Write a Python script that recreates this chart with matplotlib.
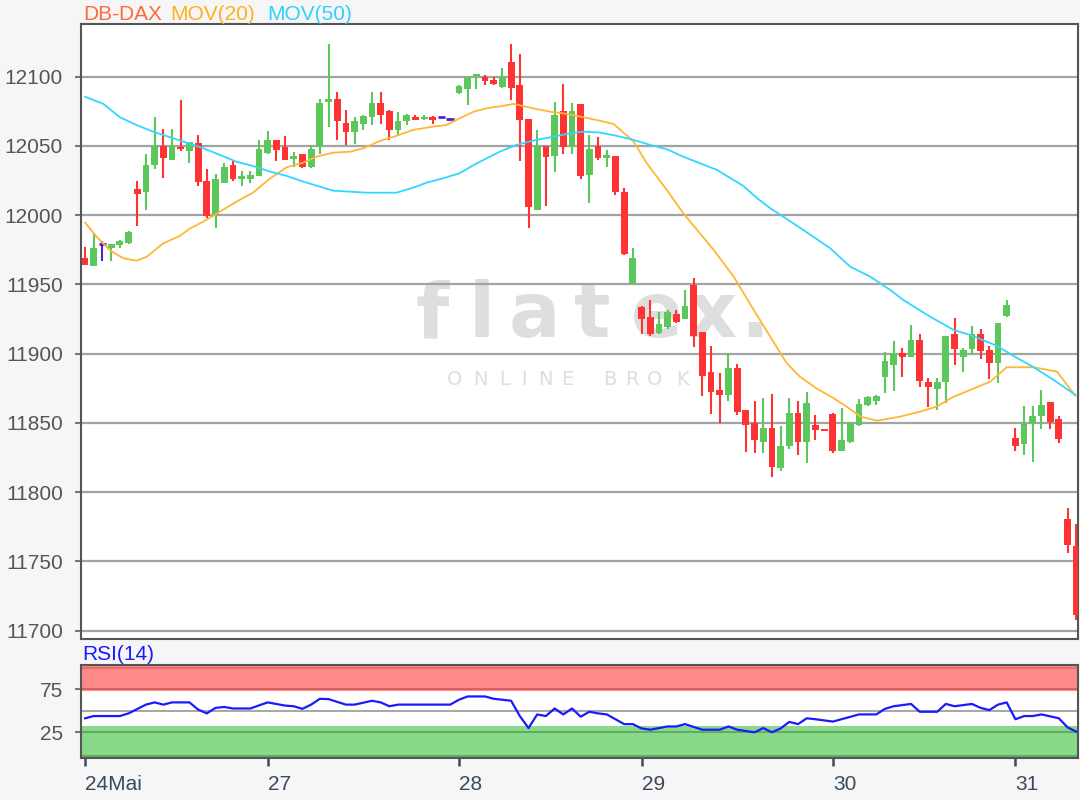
import numpy as np
import matplotlib
matplotlib.use("Agg")
import matplotlib.pyplot as plt

plt.rcParams["font.family"] = ["Liberation Sans", "DejaVu Sans"]

# hourly candles DB-DAX (open, high, low, close)
opens = [11969, 11963, 11979, 11976.5, 11978.5, 11980, 12019, 12016.5, 12036, 12050,
         12040, 12049.5, 12046, 12052, 12024.5, 12000, 12023.5, 12036.5, 12026, 12026,
         12028.5, 12045, 12054, 12049.5, 12040.5, 12044, 12034.5, 12049, 12081.5, 12084,
         12066.5, 12060, 12065.5, 12070.5, 12081, 12075, 12061.5, 12068, 12071, 12069.5,
         12071, 12071, 12069.5, 12088, 12091, 12100.5, 12100, 12097.5, 12092.5, 12110.5,
         12094, 12069.5, 12004, 12050, 12043, 12075.5, 12049, 12080.5, 12029, 12050,
         12041.5, 12042.5, 12017, 11950.5, 11933.5, 11926.5, 11915, 11919, 11928.5, 11925,
         11949.5, 11916, 11887, 11874, 11870, 11890, 11859.5, 11850, 11836.5, 11846,
         11817.5, 11833, 11857.5, 11836, 11848.5, 11845, 11856.5, 11830, 11836.5, 11848.5,
         11863, 11865.5, 11883, 11891.5, 11900.5, 11897.5, 11910, 11879.5, 11874.5, 11879.5,
         11914.5, 11897.5, 11903.5, 11914, 11902.5, 11893, 11927.5, 11839, 11834.5, 11850,
         11855, 11865, 11852.5, 11780.5, 11761]
highs = [11977, 11987, 11981, 11979.5, 11982, 11988.5, 12025, 12044, 12071, 12062.5,
         12062.5, 12083, 12053, 12058, 12033.5, 12030, 12038, 12039.5, 12032, 12032,
         12054, 12061, 12054, 12057, 12045.5, 12044, 12050.5, 12084, 12123.5, 12089,
         12076, 12071, 12072, 12089, 12089, 12076, 12074.5, 12073, 12072, 12072.5,
         12071.5, 12071, 12069.5, 12094, 12099.5, 12102, 12101, 12100, 12106, 12123.5,
         12116, 12069.5, 12061.5, 12050, 12082, 12094.5, 12081, 12080.5, 12058, 12056.5,
         12047, 12042.5, 12019.5, 11976, 11934.5, 11938.5, 11930, 11931.5, 11931.5, 11946,
         11954.5, 11916, 11905.5, 11886, 11900.5, 11892.5, 11859.5, 11865.5, 11868, 11871,
         11847.5, 11868, 11865.5, 11872, 11856, 11845, 11857.5, 11860.5, 11851, 11867,
         11869.5, 11870.5, 11901, 11909, 11904, 11920.5, 11914.5, 11882.5, 11882.5, 11913,
         11926, 11904, 11920, 11917.5, 11905.5, 11922, 11939, 11846.5, 11862.5, 11862.5,
         11874, 11865, 11855, 11788.5, 11777]
lows = [11964, 11963, 11967, 11967, 11976, 11979, 11992, 12004, 12033, 12027,
        12040, 12046.5, 12037.5, 12021, 11998, 11991, 12023, 12025, 12021, 12023.5,
        12028, 12044, 12039, 12039.5, 12035, 12034, 12034, 12044, 12063.5, 12054.5,
        12050.5, 12051.5, 12061.5, 12065, 12065.5, 12054, 12057, 12065, 12068.5, 12068.5,
        12066, 12071, 12069.5, 12087.5, 12079.5, 12091, 12094, 12094, 12092, 12083,
        12039, 11991, 12003.5, 12006.5, 12031.5, 12044.5, 12044.5, 12026, 12008.5, 12040,
        12034.5, 12014.5, 11971, 11950, 11914.5, 11912.5, 11914.5, 11918, 11922, 11925,
        11905, 11869.5, 11856.5, 11850, 11865.5, 11856, 11829, 11828.5, 11828, 11811,
        11815.5, 11831, 11827, 11821, 11838, 11844.5, 11828, 11829.5, 11835.5, 11848,
        11862.5, 11863, 11871.5, 11873, 11883, 11897.5, 11876, 11861.5, 11859, 11864.5,
        11892, 11886.5, 11899.5, 11896, 11882, 11879, 11926.5, 11830, 11827, 11822,
        11845.5, 11845.5, 11835.5, 11756, 11708]
closes = [11964, 11976.5, 11979, 11979, 11981, 11987.5, 12015, 12036, 12050, 12041.5,
          12050, 12048, 12053, 12024, 11999.5, 12026, 12035, 12026, 12028, 12029,
          12048, 12054, 12047, 12040, 12042.5, 12034.5, 12048, 12081, 12084, 12068,
          12060, 12068, 12071.5, 12081, 12072, 12061.5, 12068, 12072, 12069, 12071,
          12069, 12071, 12069.5, 12093, 12099.5, 12102, 12096.5, 12095, 12100, 12092,
          12069, 12006, 12050, 12042, 12072, 12049, 12075.5, 12028, 12048, 12041,
          12043.5, 12017, 11972, 11969, 11925, 11914, 11921.5, 11930, 11923, 11934.5,
          11912.5, 11884, 11872.5, 11870, 11890, 11858, 11848.5, 11838, 11846, 11818,
          11833, 11857.5, 11836, 11864.5, 11845, 11844.5, 11829.5, 11837.5, 11851, 11864,
          11868.5, 11869.5, 11894.5, 11900.5, 11897.5, 11910, 11880, 11876, 11879.5, 11913,
          11903.5, 11902.5, 11914, 11902, 11893, 11922, 11935, 11833, 11849.5, 11855,
          11863, 11850.5, 11838.5, 11762, 11711.5]

# moving averages read at points along the lines (candle index, price)
mov20_x = [0, 1.3, 2.9, 4.4, 5.9, 7.1, 9.0, 10.9, 12.1, 13.6, 15.5, 17.4, 19.3, 21.3, 23.2,
           25.1, 26.6, 28.5, 30.5, 32.0, 33.9, 35.8, 37.7, 40.0, 41.6, 43.1, 44.7, 46.2, 47.7,
           49.3, 51.6, 53.5, 55.4, 57.3, 59.2, 60.8, 63.1, 64.6, 66.9, 68.8, 70.7, 72.3, 74.6,
           76.9, 78.8, 80.7, 82.2, 84.1, 86.1, 87.6, 89.2, 91.1, 93.7, 96.0, 97.9, 99.9, 101.8,
           104.1, 106.0, 109.1, 111.8, 113.9]
mov20 = [11994.6, 11984.5, 11974.4, 11968.9, 11967.1, 11970.0, 11979.7, 11985.0, 11990.5,
         11995.3, 12002.5, 12009.7, 12016.2, 12026.6, 12034.6, 12037.9, 12042.2, 12045.1,
         12045.8, 12048.3, 12053.6, 12057.2, 12061.5, 12063.9, 12065.1, 12070.0, 12074.7,
         12077.2, 12078.5, 12080.3, 12077.0, 12074.7, 12073.1, 12070.7, 12068.2, 12065.8,
         12053.1, 12037.5, 12018.2, 12001.4, 11986.9, 11974.9, 11955.6, 11931.6, 11912.3,
         11893.1, 11883.5, 11875.0, 11867.8, 11861.7, 11854.5, 11851.6, 11854.5, 11858.1,
         11861.7, 11868.9, 11873.8, 11879.8, 11890.2, 11890.2, 11887.0, 11869.5]
mov50_x = [0, 2.1, 4.0, 5.9, 7.8, 9.8, 11.7, 13.6, 15.5, 17.4, 19.3, 21.3, 23.2, 25.1, 27.0,
           28.5, 32.4, 35.8, 38.1, 39.3, 41.2, 43.1, 44.7, 46.2, 47.7, 49.6, 51.6, 53.5, 55.4,
           57.3, 59.2, 61.2, 63.1, 65.0, 66.9, 68.8, 70.7, 72.7, 75.7, 77.3, 78.8, 80.3, 82.6,
           85.7, 88.0, 90.3, 92.6, 94.1, 97.2, 99.9, 101.8, 104.9, 106.8, 109.1, 111.4, 113.9]
mov50 = [12085.5, 12080.3, 12070.7, 12065.1, 12060.3, 12056.2, 12052.3, 12048.3, 12043.5,
         12038.6, 12035.5, 12031.4, 12028.3, 12024.2, 12020.6, 12017.7, 12016.2, 12016.2,
         12020.6, 12023.5, 12026.6, 12030.3, 12036.2, 12041.1, 12045.8, 12050.7, 12053.9,
         12056.2, 12058.6, 12060.3, 12059.6, 12057.2, 12054.3, 12050.7, 12047.6, 12042.2,
         12037.5, 12032.6, 12021.1, 12012.2, 12005.0, 11998.9, 11989.3, 11976.1, 11962.8,
         11955.6, 11946.0, 11938.8, 11926.7, 11917.1, 11913.5, 11905.6, 11898.3, 11890.2,
         11881.0, 11870.2]

# RSI(14) read at the line's corners
rsi_x = [0, 1, 4, 5, 7, 8, 9, 10, 12, 13, 14, 15, 16, 17, 19, 21, 23, 24, 25, 26,
         27, 28, 30, 31, 33, 34, 35, 36, 42, 43, 44, 46, 47, 49, 50, 51, 52, 53, 54, 55,
         56, 57, 58, 59, 60, 61, 62, 63, 64, 65, 67, 68, 69, 71, 73, 74, 75, 77, 78, 79,
         80, 81, 82, 83, 84, 86, 87, 89, 91, 92, 93, 95, 96, 98, 99, 100, 102, 103, 104, 105,
         106, 107, 108, 109, 110, 112, 113, 114]
rsi = [41.3, 43.9, 43.9, 47, 57.2, 59.8, 57.2, 59.8, 59.8, 51.5, 47, 53.4, 54.5, 52.7, 52.7,
       59.8, 56.1, 55.3, 52.3, 57.2, 64, 63.6, 57.2, 57.2, 61.7, 59.8, 55.3, 57.2, 57.2, 62.9,
       66.7, 66.7, 64, 61.7, 43.9, 29.9, 45.8, 43.9, 52.7, 45.8, 52.7, 43.2, 48.9, 47, 45.8,
       40.2, 34.5, 34.5, 29.5, 28, 31.8, 31.8, 34.5, 28, 28, 31.8, 28, 25, 29.9, 25,
       29.5, 37.1, 34.5, 41.3, 40.2, 37.5, 40.2, 45.8, 45.8, 52.3, 55.3, 58, 48.9, 48.9, 58,
       55.3, 58, 53.4, 50.8, 57.2, 59.8, 40.2, 43.9, 43.9, 45.8, 41.3, 30.7, 25.8]

day_pos = [0, 21, 43, 64, 86, 107]
day_labels = ["24Mai", "27", "28", "29", "30", "31"]
price_ticks = [11700, 11750, 11800, 11850, 11900, 11950, 12000, 12050, 12100]

green = "#5cc85c"
red = "#ff3333"
doji = "#4a22d6"
bg = "#f6f6f6"
W, H = 1080, 800

fig = plt.figure(figsize=(10.8, 8), dpi=100, facecolor=bg)
ax = fig.add_axes([81 / W, 1 - 639 / H, 997 / W, 615 / H])
rax = fig.add_axes([81 / W, 1 - 758 / H, 997 / W, 93 / H])

# watermark
for ch, px in zip("flatex.", [432, 482, 535, 592, 657, 712, 755]):
    ax.text(px / W, 1 - 337 / H, ch, transform=fig.transFigure, ha="center", va="baseline",
            fontsize=55, fontweight="bold", color="#dedede", family="DejaVu Sans", zorder=0.3)
for ch, px in zip("ONLINEBROK", [455, 480, 505, 524, 545, 567, 610, 632, 655, 682]):
    ax.text(px / W, 1 - 385 / H, ch, transform=fig.transFigure, ha="center", va="baseline",
            fontsize=14, color="#dedede", family="DejaVu Sans", zorder=0.3)

# candles
x = np.arange(len(opens))
for i in x:
    o, h, l, c = opens[i], highs[i], lows[i], closes[i]
    if o == c:
        col = doji
    elif c > o:
        col = green
    else:
        col = red
    ax.vlines(i, l, h, color=col, lw=1.5, zorder=3)
    if o == c:
        ax.hlines(o, i - 0.45, i + 0.45, color=col, lw=2, zorder=4)
    else:
        ax.bar(i, max(abs(c - o), 1.2), bottom=min(o, c), width=0.78, color=col, zorder=4)

ax.plot(mov20_x, mov20, color="#ffb733", lw=1.3, zorder=5)
ax.plot(mov50_x, mov50, color="#33d6ff", lw=1.3, zorder=5)

ax.set_xlim(-0.47, 114.2)
ax.set_ylim(11694, 12138)
ax.set_yticks(price_ticks)
ax.set_yticklabels([str(v) for v in price_ticks])
ax.set_axisbelow(True)
ax.yaxis.grid(True, color="#a3a3a3", lw=1.6)
ax.tick_params(axis="x", bottom=False, labelbottom=False)
ax.tick_params(axis="y", length=4, width=1.5, color="#777777", labelcolor="#555555",
               labelsize=15, pad=9)
for sp in ax.spines.values():
    sp.set_color("#555555")
    sp.set_linewidth(1.5)

# RSI panel
rax.set_xlim(-0.47, 114.2)
rax.set_ylim(-4.9, 103.3)
rax.axhspan(73.4, 103.3, color="#ff8a8a", lw=0, zorder=0.5)
rax.axhspan(-4.9, 32.3, color="#8ad88a", lw=0, zorder=0.5)
rax.axhline(75, color="#dd6060", lw=1.5, zorder=1)
rax.axhline(99.5, color="#e57070", lw=1.5, zorder=1)
rax.axhline(25, color="#5fae5f", lw=1.5, zorder=1)
rax.axhline(-2.5, color="#5fae5f", lw=1.5, zorder=1)
rax.axhline(50, color="#a8a8a8", lw=1.5, zorder=1)
rax.plot(rsi_x, rsi, color="#1a1aff", lw=1.6, zorder=3)

rax.set_yticks([25, 75])
rax.set_yticklabels(["25", "75"])
rax.set_xticks(day_pos)
rax.set_xticklabels(day_labels, ha="left")
rax.tick_params(axis="y", length=4, width=1.5, color="#777777", labelcolor="#555555",
                labelsize=15, pad=9)
rax.tick_params(axis="x", length=6, width=1.8, color="#3a4a5c", labelcolor="#3a4a5c",
                labelsize=15, pad=6)
for sp in rax.spines.values():
    sp.set_color("#555555")
    sp.set_linewidth(1.5)

# titles
fig.text(83 / W, 1 - 14 / H, "DB-DAX", color="#ff6a3d", fontsize=15, va="center", ha="left")
fig.text(170 / W, 1 - 14 / H, "MOV(20)", color="#ffb020", fontsize=15, va="center", ha="left")
fig.text(267 / W, 1 - 14 / H, "MOV(50)", color="#30d0ff", fontsize=15, va="center", ha="left")
fig.text(82 / W, 1 - 655 / H, "RSI(14)", color="#1a1aff", fontsize=15, va="center", ha="left")

fig.savefig("out.png", dpi=100, facecolor=bg)
